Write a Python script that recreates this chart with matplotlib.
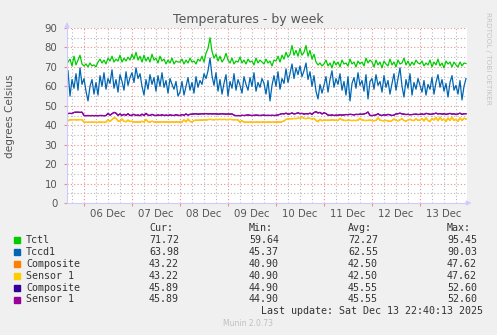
import numpy as np
import matplotlib.pyplot as plt
from matplotlib.patches import Rectangle

# hourly samples, Dec 5 16:00 .. Dec 13 23:00 (hours since Dec 5 00:00)
hours = np.arange(16, 216)

tctl = [72.5, 74.0, 70.5, 75.5, 71.0, 73.5, 76.0, 71.5,
        70.5, 71.5, 70.0, 72.0, 70.5, 71.0, 70.0, 72.5, 74.0, 72.0, 73.5, 71.5, 74.5, 73.0, 75.5, 72.5, 74.0, 73.0, 76.0, 72.5, 74.5, 73.0, 75.0, 73.5,
        76.5, 74.0, 77.5, 73.5, 75.5, 72.5, 76.0, 73.0, 75.0, 72.5, 76.5, 73.5, 74.5, 72.0, 75.5, 73.0, 74.0, 71.5, 73.5, 72.0, 74.5, 71.5, 73.0, 72.5,
        72.5, 74.0, 71.5, 73.5, 72.0, 74.5, 72.5, 73.0, 71.5, 74.0, 73.0, 75.5, 72.5, 77.0, 79.5, 85.0, 78.0, 74.5, 76.5, 73.0, 75.5, 72.5, 74.0, 77.0,
        73.5, 72.0, 74.5, 71.5, 73.0, 72.5, 75.0, 72.0, 73.5, 71.5, 74.0, 72.5, 73.0, 71.0, 74.5, 72.0, 73.5, 72.5, 71.5, 74.0, 72.0, 73.0, 70.5, 73.5,
        73.0, 75.5, 72.5, 76.0, 74.0, 77.5, 75.0, 76.5, 81.0, 76.0, 78.5, 75.5, 79.5, 76.0, 77.5, 81.0, 75.5, 78.5, 74.0, 76.5, 72.5, 71.0, 72.0, 70.5,
        71.5, 73.5, 70.5, 72.0, 69.5, 73.0, 71.0, 72.5, 70.0, 73.5, 71.5, 72.0, 70.5, 74.0, 71.5, 72.5, 70.0, 73.0, 71.5, 72.5, 70.5, 74.5, 72.0, 73.5,
        72.5, 70.0, 73.5, 71.0, 72.5, 69.5, 73.0, 71.5, 70.5, 74.0, 71.0, 72.5, 70.0, 73.5, 71.5, 72.0, 74.5, 71.0, 73.0, 70.5, 72.5, 71.0, 73.5, 72.0,
        71.5, 73.0, 70.5, 72.0, 71.0, 73.5, 70.0, 72.5, 71.0, 74.0, 70.5, 72.0, 69.5, 73.0, 71.5, 72.5, 70.0, 72.5, 71.0, 70.0, 72.5, 70.5, 72.0, 71.7]

tccd1 = [68.0, 55.0, 63.5, 59.0, 66.5, 58.0, 69.5, 61.0,
         64.0, 57.5, 52.5, 60.0, 63.5, 56.0, 62.0, 55.5, 65.5, 60.0, 67.0, 58.5, 64.0, 61.5, 68.5, 59.0, 63.5, 57.0, 66.0, 62.5, 58.0, 67.5, 60.5, 64.5,
         67.0, 62.0, 69.5, 64.0, 66.5, 60.0, 55.5, 63.5, 58.5, 66.0, 61.0, 64.5, 57.5, 65.5, 60.0, 67.0, 59.5, 63.0, 56.5, 64.0, 61.0, 58.5, 62.5, 55.0,
         57.0, 62.5, 55.5, 60.0, 64.5, 58.0, 62.0, 56.5, 65.0, 59.5, 63.0, 61.0, 66.5, 64.0, 68.0, 74.5, 65.5, 60.5, 67.0, 57.5, 63.5, 56.0, 61.5, 66.0,
         55.0, 62.5, 59.0, 66.5, 58.0, 63.5, 60.5, 56.5, 65.0, 61.0, 58.0, 64.5, 60.0, 67.0, 57.5, 62.0, 59.5, 64.0, 61.5, 56.0, 63.0, 52.5, 60.5, 65.5,
         60.0, 67.5, 58.5, 64.0, 61.5, 69.0, 62.0, 66.5, 71.5, 64.0, 69.5, 66.0, 70.5, 65.0, 68.0, 72.0, 63.5, 67.5, 60.0, 65.5, 57.5, 53.5, 61.0, 56.5,
         60.5, 65.0, 57.0, 63.5, 68.0, 59.5, 64.0, 61.0, 66.5, 58.0, 62.5, 55.5, 65.0, 52.5, 61.5, 64.5, 59.0, 67.0, 60.5, 63.0, 57.5, 66.0, 53.5, 62.5,
         64.0, 58.5, 66.0, 60.5, 62.5, 57.0, 65.5, 59.5, 63.0, 56.0, 61.5, 66.5, 58.0, 64.0, 69.5, 60.0, 54.5, 63.5, 59.0, 66.5, 55.5, 62.0, 58.5, 64.0,
         60.5, 57.0, 63.0, 55.5, 61.0, 58.5, 64.5, 56.0, 62.0, 66.0, 59.5, 63.5, 57.5, 61.5, 54.5, 62.0, 65.5, 58.0, 60.5, 56.0, 63.0, 53.0, 60.0, 64.0]

nvme1 = [42.3, 42.8, 42.8, 42.9, 42.8, 42.8, 42.9, 42.8,
         41.6, 41.5, 41.5, 41.5, 41.6, 41.5, 41.5, 41.5, 41.6, 41.5, 41.5, 41.6, 42.8, 42.0, 42.9, 43.8, 43.5, 42.2, 42.0, 43.2, 42.0, 41.8, 42.6, 41.9,
         42.0, 41.7, 41.6, 41.7, 41.6, 42.0, 41.7, 43.0, 41.8, 41.6, 42.1, 41.7, 41.6, 41.7, 41.6, 41.8, 41.6, 41.7, 41.6, 41.6, 41.7, 41.6, 41.7, 41.6,
         41.7, 41.6, 42.8, 41.7, 43.2, 42.0, 41.6, 42.4, 42.6, 42.5, 42.7, 42.6, 42.8, 42.7, 42.9, 43.0, 42.9, 42.8, 43.0, 42.9, 43.0, 42.9, 43.0, 42.9,
         42.9, 43.0, 42.9, 42.8, 42.9, 42.7, 41.6, 42.3, 41.6, 41.6, 41.5, 41.6, 41.6, 41.5, 41.6, 41.6, 41.5, 41.6, 41.6, 41.5, 41.6, 41.6, 41.5, 41.6,
         41.6, 41.7, 41.6, 41.8, 42.2, 43.0, 43.2, 43.4, 43.3, 43.5, 43.4, 43.6, 43.5, 44.2, 43.5, 43.4, 43.6, 43.5, 43.3, 43.5, 42.5, 41.8, 43.0, 42.3,
         42.6, 42.5, 42.6, 42.5, 42.8, 42.6, 42.5, 42.4, 43.5, 42.8, 42.5, 42.4, 42.6, 42.5, 42.4, 42.5, 42.4, 42.6, 43.6, 42.7, 42.5, 42.4, 42.5, 42.6,
         42.4, 42.3, 42.5, 43.8, 42.6, 42.4, 42.3, 42.5, 42.2, 41.9, 42.4, 43.2, 42.5, 42.3, 42.8, 43.3, 42.4, 42.2, 42.6, 43.1, 42.5, 42.4, 43.3, 42.5,
         42.6, 43.4, 42.2, 43.8, 42.5, 41.9, 43.5, 42.7, 43.9, 42.3, 44.1, 42.6, 43.2, 41.9, 43.7, 42.4, 44.2, 42.5, 43.1, 42.0, 43.8, 42.4, 43.6, 43.2]

nvme2 = [46.0, 46.1, 46.0, 46.6, 46.7, 46.7, 46.6, 46.7,
         45.0, 44.9, 45.0, 44.9, 45.0, 44.9, 45.0, 44.9, 45.0, 45.0, 44.9, 45.0, 46.1, 45.2, 45.9, 46.6, 46.2, 45.1, 45.8, 45.0, 45.6, 45.1, 45.9, 45.0,
         45.2, 45.6, 45.0, 45.3, 44.9, 45.7, 45.0, 46.1, 45.2, 45.0, 45.6, 45.1, 45.0, 45.3, 45.0, 45.4, 45.0, 45.2, 45.0, 45.3, 45.1, 45.0, 45.4, 45.1,
         45.0, 45.5, 45.1, 45.8, 45.2, 45.6, 45.7, 45.8, 45.9, 45.7, 45.8, 45.9, 45.8, 46.0, 45.8, 45.9, 45.8, 45.9, 45.8, 45.7, 45.8, 45.9, 45.8, 45.7,
         45.8, 45.7, 45.8, 45.2, 44.9, 45.0, 44.9, 45.1, 45.0, 45.1, 45.3, 45.1, 45.0, 45.1, 45.2, 45.1, 45.0, 45.1, 45.2, 45.0, 45.1, 45.0, 45.1, 45.0,
         45.1, 45.3, 45.6, 46.0, 45.8, 46.2, 45.7, 45.9, 46.3, 45.8, 46.0, 46.4, 45.9, 46.1, 45.7, 46.0, 45.8, 46.2, 45.6, 46.5, 47.0, 46.3, 46.6, 45.8,
         46.4, 46.0, 45.2, 45.1, 45.3, 45.0, 45.2, 45.1, 45.4, 45.2, 45.3, 45.5, 45.4, 45.6, 45.5, 45.3, 45.6, 45.5, 45.7, 45.6, 45.8, 46.1, 46.8, 45.0,
         45.0, 45.1, 45.3, 45.9, 45.2, 45.0, 45.4, 45.1, 45.6, 45.3, 45.0, 45.2, 45.8, 45.9, 46.2, 45.8, 45.7, 45.5, 45.6, 45.4, 45.5, 45.6, 45.7, 45.5,
         45.6, 45.8, 45.5, 46.1, 45.9, 45.6, 45.7, 45.9, 46.2, 45.8, 46.0, 45.7, 45.9, 45.6, 45.8, 46.1, 45.7, 45.9, 45.5, 45.8, 46.2, 45.6, 45.9, 45.9]

names = ["Tctl", "Tccd1", "Composite", "Sensor 1", "Composite", "Sensor 1"]
colors = ["#00cc00", "#0066b3", "#ff8000", "#ffcc00", "#330099", "#990099"]
series = [tctl, tccd1, nvme1, nvme1, nvme2, nvme2]
cur_vals = ["71.72", "63.98", "43.22", "43.22", "45.89", "45.89"]
min_vals = ["59.64", "45.37", "40.90", "40.90", "44.90", "44.90"]
avg_vals = ["72.27", "62.55", "42.50", "42.50", "45.55", "45.55"]
max_vals = ["95.45", "90.03", "47.62", "47.62", "52.60", "52.60"]
day_labels = ["06 Dec", "07 Dec", "08 Dec", "09 Dec", "10 Dec", "11 Dec", "12 Dec", "13 Dec"]

W, H = 497, 335
fig = plt.figure(figsize=(W / 100, H / 100), dpi=100, facecolor="#f0f0f0")
ax = fig.add_axes([67 / W, 1 - 203 / H, 400 / W, 175 / H])
ax.set_facecolor("white")

# grid
minor_c = "#b8b8b8"
major_c = "#e89090"
dots = (0, (1, 2))
midnights = np.arange(24, 216, 24)
for h in np.arange(18, 216, 6):
    if h % 24:
        ax.axvline(h, color=minor_c, lw=0.8, ls=dots, zorder=0)
for v in range(5, 90, 10):
    ax.axhline(v, color=minor_c, lw=0.8, ls=dots, zorder=0)
for h in midnights:
    ax.axvline(h, color=major_c, lw=0.8, ls=dots, zorder=0)
for v in range(10, 91, 10):
    ax.axhline(v, color=major_c, lw=0.8, ls=dots, zorder=0)

for vals, c in zip(series, colors):
    ax.plot(hours, vals, color=c, lw=0.9)

ax.set_xlim(15.5, 215.5)
ax.set_ylim(0, 90)
ax.set_yticks(range(0, 91, 10))
ax.set_xticks(midnights)
ax.set_xticklabels([])
ax.tick_params(axis="x", length=2, color=major_c, direction="out")
ax.tick_params(axis="y", length=2, color=major_c, labelsize=7.3,
               labelcolor="#555555", pad=5)
for i, lab in enumerate(day_labels):
    ax.text(36 + 24 * i, -5.5, lab, ha="center", va="center", fontsize=7.3,
            color="#555555", clip_on=False)

for s in ["top", "right"]:
    ax.spines[s].set_visible(False)
for s in ["left", "bottom"]:
    ax.spines[s].set_color("#ccccff")
    ax.spines[s].set_linewidth(0.8)
ax.annotate("", xy=(0, 1.05), xytext=(0, 0.98), xycoords="axes fraction",
            arrowprops=dict(arrowstyle="-|>", color="#ccccff", lw=0.8, mutation_scale=7))
ax.annotate("", xy=(1.018, 0), xytext=(0.99, 0), xycoords="axes fraction",
            arrowprops=dict(arrowstyle="-|>", color="#ccccff", lw=0.8, mutation_scale=7))

fig.text(248.5 / W, 1 - 20 / H, "Temperatures - by week", ha="center", va="center",
         fontsize=9, color="#555555")
fig.text(10 / W, 1 - 116 / H, "degrees Celsius", rotation=90, ha="center", va="center",
         fontsize=7.6, color="#555555")
fig.text(488 / W, 1 - 58 / H, "RRDTOOL / TOBI OETIKER", rotation=270, ha="center",
         va="center", fontsize=5.2, color="#c4c4c4")

# legend block
mono = dict(family="DejaVu Sans Mono", fontsize=7.2, color="#333333", va="center")
col_x = [149, 249, 348, 447]
for x, hdr in zip(col_x, ["Cur:", "Min:", "Avg:", "Max:"]):
    fig.text(x / W, 1 - 228 / H, hdr, **mono)
for i, name in enumerate(names):
    y = 240 + 11.9 * i
    fig.patches.append(Rectangle((14 / W, 1 - (y + 3) / H), 6 / W, 6 / H,
                                 transform=fig.transFigure, color=colors[i]))
    fig.text(26 / W, 1 - y / H, name, **mono)
    for x, v in zip(col_x, [cur_vals[i], min_vals[i], avg_vals[i], max_vals[i]]):
        fig.text(x / W, 1 - y / H, v, **mono)
fig.text(483 / W, 1 - 311.5 / H, "Last update: Sat Dec 13 22:40:13 2025", ha="right", **mono)
fig.text(248 / W, 1 - 324 / H, "Munin 2.0.73", ha="center", va="center",
         fontsize=5.5, color="#c0c0c0")

fig.savefig("out.png", dpi=100, facecolor=fig.get_facecolor())
